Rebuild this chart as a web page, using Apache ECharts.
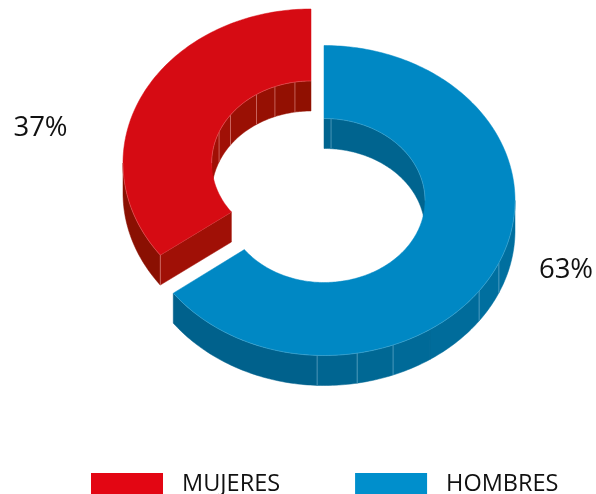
<!DOCTYPE html>
<html><head><meta charset="utf-8">
<style>html,body{margin:0;padding:0;background:#fff}#c{width:596px;height:494px}</style>
<script src="https://cdn.jsdelivr.net/npm/echarts@6/dist/echarts.min.js"></script>
</head><body><div id="c"></div>
<script>
// Data
const categories = ['HOMBRES', 'MUJERES'];
const values = [63, 37];
const legendOrder = ['MUJERES', 'HOMBRES'];

// Styles and layout
const depth = 30;
const warp = 6.5; // foreshortening of the drawing's tilted disc, in degrees
const looks = {
  HOMBRES: { cx: 324, cy: 200.5, rx: 191, rxLeft: 188, ry: 155, irx: 101, irxLeft: 99.3, iry: 82, labelX: 566, labelY: 270,
    top: '#0088c4', legend: '#008fcc', edge: 'rgba(170,220,240,0.4)', cap: '#006491',
    outerStops: [90, 113.7, 125.7, 146.3, 158.8, 170, 182.1, 233.3],
    outerFill: ['#006f9f', '#006f9f', '#006c9b', '#006a98', '#006894', '#006591', '#00618c'],
    outerLines: [113.7, 125.7, 158.8, 170, 182.1],
    innerStops: [0, 4, 90], innerFill: ['#00648f', '#00648f'], innerLines: [4] },
  MUJERES: { cx: 311, cy: 163, rx: 188, rxLeft: 188, ry: 154, irx: 99.3, irxLeft: 99.3, iry: 82, labelX: 40.5, labelY: 128,
    top: '#d60b13', legend: '#e30613', edge: 'rgba(255,190,190,0.45)', cap: '#a01006',
    outerStops: [233.3, 270], outerFill: ['#8a1002'], outerLines: [],
    innerStops: [270, 292.2, 305.8, 326.7, 338.7, 350.7, 360],
    innerFill: ['#a01006', '#a01006', '#9a1004', '#961003', '#931002', '#901001'], innerLines: [292.2, 305.8, 326.7, 338.7, 350.7] }
};

const rad = d => d * Math.PI / 180;
const toDrawn = share => { const t = share * 360; return t + warp * Math.sin(rad(2 * t)); };
const total = values.reduce((a, b) => a + b, 0);

function pt(L, inner, u, z) {
  const s = Math.sin(rad(u));
  const rx = inner ? (s < 0 ? L.irxLeft : L.irx) : (s < 0 ? L.rxLeft : L.rx), ry = inner ? L.iry : L.ry;
  return [L.cx + rx * s, L.cy - ry * Math.cos(rad(u)) + z];
}
function arc(L, inner, a, b, z) {
  const n = Math.max(2, Math.ceil(Math.abs(b - a))), out = [];
  for (let i = 0; i <= n; i++) out.push(pt(L, inner, a + (b - a) * i / n, z));
  return out;
}
function wall(L, inner, stops, fills, lines) {
  const kids = [];
  fills.forEach((f, i) => {
    const pts = arc(L, inner, stops[i], stops[i + 1], 0).concat(arc(L, inner, stops[i + 1], stops[i], depth));
    kids.push({ type: 'polygon', shape: { points: pts }, style: { fill: f, stroke: f, lineWidth: 0.5 } });
  });
  lines.forEach(u => kids.push({ type: 'line',
    shape: { x1: pt(L, inner, u, 0)[0], y1: pt(L, inner, u, 0)[1], x2: pt(L, inner, u, depth)[0], y2: pt(L, inner, u, depth)[1] },
    style: { stroke: L.edge, lineWidth: 1 } }));
  return kids;
}

function makeRender(name) {
  return function (params, api) {
    const L = looks[name];
    const idx = categories.indexOf(name);
    const before = values.slice(0, idx).reduce((a, b) => a + b, 0);
    const a = toDrawn(before / total), b = toDrawn((before + api.value(0)) / total);
    const kids = [];
    // inner wall (far side of the hole), outer wall (near side)
    kids.push(...wall(L, true, L.innerStops, L.innerFill, L.innerLines));
    kids.push(...wall(L, false, L.outerStops, L.outerFill, L.outerLines));
    // cut face at the end of the slice, when it looks toward the viewer
    if (a > 180 && a < 270) {
      const p1 = pt(L, false, a, 0), p2 = pt(L, true, a, 0), p3 = pt(L, true, a, depth), p4 = pt(L, false, a, depth);
      kids.push({ type: 'polygon', shape: { points: [p1, p2, p3, p4] }, style: { fill: L.cap, stroke: L.cap, lineWidth: 0.5 } });
      kids.push({ type: 'polyline', shape: { points: [p2, p1, p4] }, style: { fill: 'none', stroke: L.edge, lineWidth: 1 } });
    }
    // top surface
    kids.push({ type: 'polygon', shape: { points: arc(L, false, a, b, 0).concat(arc(L, true, b, a, 0)) },
      style: { fill: L.top, stroke: L.top, lineWidth: 0.5 } });
    // pale rim along the near outer edge and far inner edge
    kids.push({ type: 'polyline', shape: { points: arc(L, false, L.outerStops[0], L.outerStops[L.outerStops.length - 1], 0) },
      style: { fill: 'none', stroke: L.edge, lineWidth: 0.6 } });
    kids.push({ type: 'polyline', shape: { points: arc(L, true, L.innerStops[0], L.innerStops[L.innerStops.length - 1], 0) },
      style: { fill: 'none', stroke: L.edge, lineWidth: 0.6 } });
    kids.push({ type: 'text', style: { text: api.value(0) + '%', x: L.labelX, y: L.labelY, align: 'center', verticalAlign: 'middle',
      fill: '#111', font: '27.5px "Open Sans"' } });
    return { type: 'group', children: kids };
  };
}

const chart = echarts.init(document.getElementById('c'), null, { renderer: 'canvas' });
chart.setOption({
  animation: false,
  backgroundColor: '#fff',
  legend: {
    left: 91, top: 472, padding: 0, itemWidth: 72, itemHeight: 22, itemGap: 75, icon: 'rect', selectedMode: false,
    data: legendOrder.map(n => ({ name: n, itemStyle: { color: looks[n].legend } })),
    textStyle: { fontFamily: 'Open Sans', fontSize: 23.5, color: '#111', padding: [0, 0, 0, 14] }
  },
  series: categories.map((n, i) => ({
    type: 'custom', name: n, coordinateSystem: 'none', silent: true,
    itemStyle: { color: looks[n].legend },
    data: [[values[i]]],
    renderItem: makeRender(n)
  }))
});
</script></body></html>
